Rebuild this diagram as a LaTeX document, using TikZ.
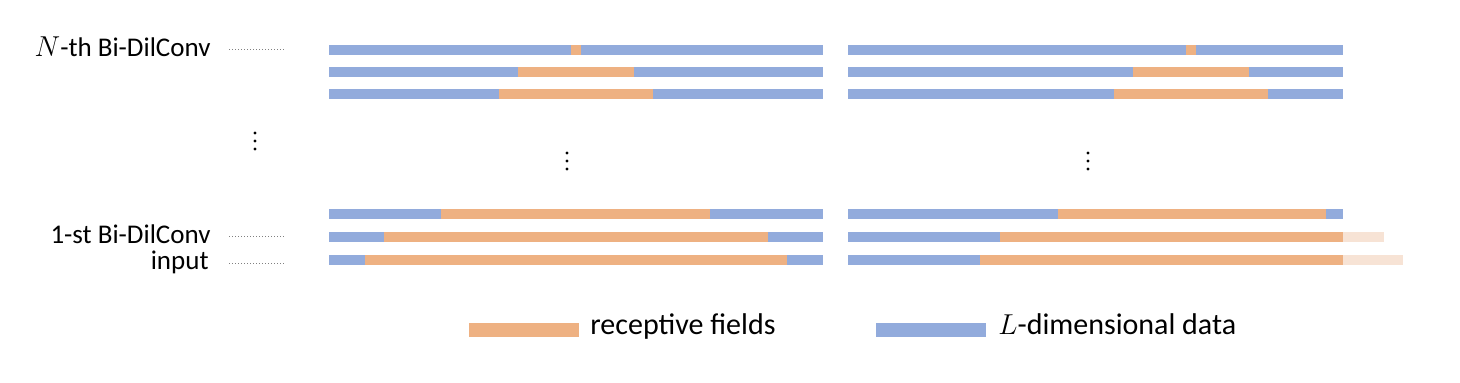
\documentclass[tikz,border=0pt]{standalone}
\usepackage{fontspec}
\setmainfont{Carlito}
\definecolor{barblue}{HTML}{92ABDC}
\definecolor{barorange}{HTML}{EEB182}
\definecolor{barlight}{HTML}{F7E3D5}
\tikzset{
    BL/.style ={fill=barblue},
    OR/.style ={fill=barorange},
    LT/.style ={fill=barlight},
    LB/.style ={anchor=mid east,inner sep=0pt,font=\fontsize{13.5}{16}\selectfont},
    LG/.style ={anchor=mid west,inner sep=0pt,font=\fontsize{15}{18}\selectfont},
    DL/.style ={densely dotted,gray,line width=0.5pt}}
\begin{document}
\begin{tikzpicture}[x=0.5pt,y=-0.5pt]
        \useasboundingbox (0,0) rectangle (1460,382);
        \node[LB] (nth) at (211,52){$N$-th Bi-DilConv};
        \node[LB] (fst) at (211,239){1-st Bi-DilConv};
        \node[LB] (inp) at (209,265){input};
        \coordinate (nthA) at (229,49);
        \coordinate (nthE) at (284,49);
        \coordinate (fstA) at (229,236);
        \coordinate (fstE) at (284,236);
        \coordinate (inpA) at (229,263);
        \coordinate (inpE) at (284,263);
        \draw[DL] (nthA) -- (nthE);
        \draw[DL] (fstA) -- (fstE);
        \draw[DL] (inpA) -- (inpE);
        \foreach \y/\a/\b/\c/\d in {45/329/571/581/823,67/329/518/634/823,89/329/499/653/823,
            209/329/441/710/823,232/329/384/768/823,255/329/365/787/823,
            45/848/1186/1196/1343,67/848/1133/1249/1343,89/848/1114/1268/1343,
            209/848/1058/1326/1343,232/848/1000/1343/1343,255/848/980/1343/1343}{
            \fill[BL] (\a,\y) rectangle (\d,\y+10);
            \fill[OR] (\b,\y) rectangle (\c,\y+10);}
        \fill[LT] (1343,232) rectangle (1384,242);
        \fill[LT] (1343,255) rectangle (1403,265);
        \foreach \x/\y in {255/141,567/161,1088/161}
            \foreach \d in {-8,0,8}
                \fill (\x,\y+\d) circle (0.8pt);
        \fill[OR] (469,323) rectangle (579,337);
        \node[LG] (rf) at (590,330){receptive fields};
        \fill[BL] (876,323) rectangle (986,337);
        \node[LG] (ld) at (998,330){$L$-dimensional data};
\end{tikzpicture}
\end{document}
